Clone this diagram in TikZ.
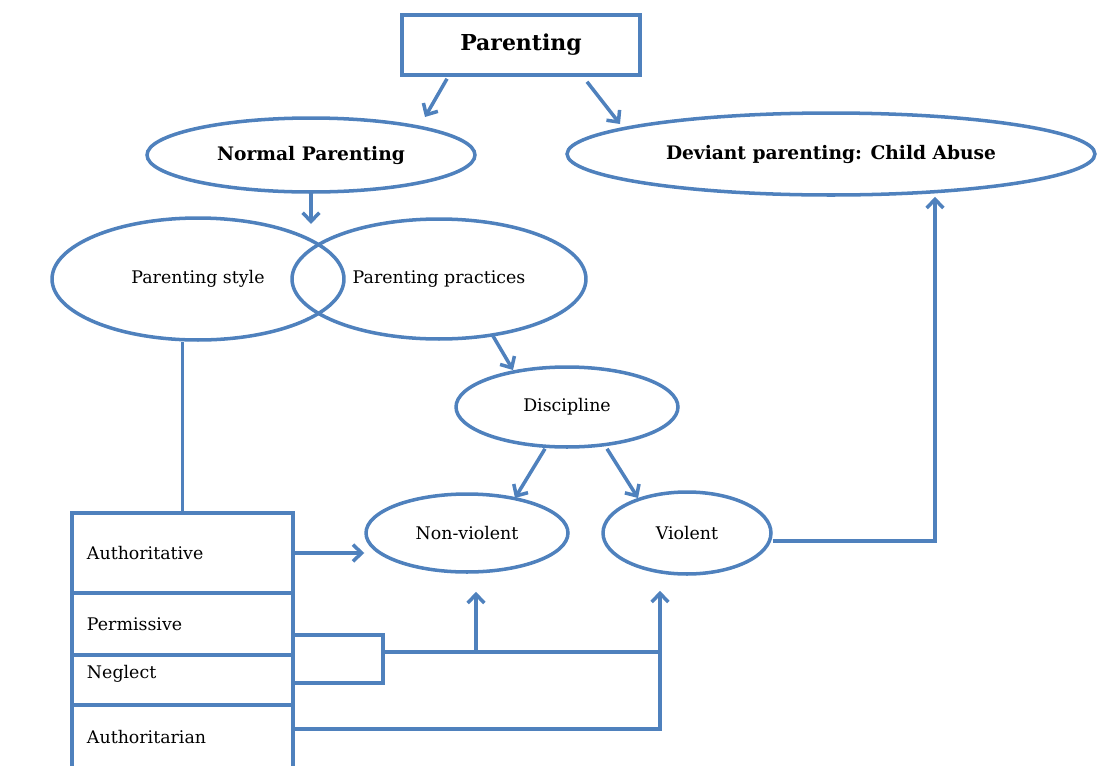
\documentclass[tikz,border=0pt]{standalone}
\usepackage{fontspec}
\setmainfont{DejaVu Serif}
\usetikzlibrary{positioning,calc,arrows.meta,shapes.geometric}
\definecolor{pblue}{HTML}{4F81BD}

\begin{document}
\begin{tikzpicture}[x=0.02cm,y=0.02cm,line width=2pt,
    ov/.style={ellipse,draw=pblue,inner sep=0pt,font=\fontsize{9.9}{12}\selectfont},
    bx/.style={rectangle,draw=pblue,inner sep=0pt},
    row/.style={bx,outer sep=0pt,minimum width=4.42cm,inner xsep=0.3cm,text width=3.82cm,align=left,font=\fontsize{9.9}{12}\selectfont},
    arr/.style={draw=pblue,-{Straight Barb[length=5pt,width=9.5pt]}},
    ln/.style={draw=pblue}]
    \useasboundingbox (0,0) rectangle (1100,-765);
    \clip (0,0) rectangle (1100,-765);
    % top level
    \node[bx,minimum width=4.76cm,minimum height=1.2cm,font=\bfseries\fontsize{12.5}{14}\selectfont] (par) at (521,-45) {Parenting};
    \node[ov,minimum width=6.56cm,minimum height=1.48cm,font=\bfseries\fontsize{10.6}{12}\selectfont] (norm) at (311,-155) {Normal Parenting};
    \node[ov,minimum width=10.56cm,minimum height=1.64cm,font=\bfseries\fontsize{10.6}{12}\selectfont] (dev) at (831,-154) {Deviant parenting: Child Abuse};
    % style / practices
    \node[ov,minimum width=5.84cm,minimum height=2.44cm] (sty) at (198,-279) {Parenting style};
    \node[ov,minimum width=5.88cm,minimum height=2.4cm] (prac) at (439,-279) {Parenting practices};
    \node[ov,minimum width=4.44cm,minimum height=1.6cm] (disc) at (567,-407) {Discipline};
    \node[ov,minimum width=4.04cm,minimum height=1.56cm] (nonv) at (467,-533) {Non-violent};
    \node[ov,minimum width=3.36cm,minimum height=1.64cm] (viol) at (687,-533) {Violent};
    % table of styles
    \node[row,minimum height=1.6cm,anchor=north west] (auth) at (72,-513) {Authoritative};
    \node[row,minimum height=1.24cm,below=0pt of auth] (perm) {Permissive};
    \node[row,minimum height=1.0cm,text depth=9pt,below=0pt of perm] (negl) {Neglect};
    \node[row,minimum height=1.3cm,below=0pt of negl] (autn) {Authoritarian};
    % connectors
    \draw[arr] ([shift={(-74,-2)}]par.south) -- ([shift={(114,38)}]norm.center);
    \draw[arr] ([shift={(66,-5)}]par.south) -- ([shift={(-211,30)}]dev.center);
    \draw[arr] (norm.south) -- ([shift={(113,55)}]sty.center);
    \draw[arr] ([shift={(54,-57)}]prac.center) -- ([shift={(-54,37)}]disc.center);
    \draw[arr] ([xshift=-22*0.02cm]disc.south) -- ([shift={(48,35)}]nonv.center);
    \draw[arr] ([xshift=40*0.02cm]disc.south) -- ([shift={(-49,35)}]viol.center);
    \draw[ln] (auth.north) -- (auth.north |- sty.south);
    \draw[arr] (auth.east) -- (auth.east -| nonv.west);
    \coordinate (j) at (383,-652);
    \coordinate (ntip) at ([shift={(9,-18)}]nonv.south);
    \coordinate (vtip) at ([shift={(-27,-15)}]viol.south);
    \draw[ln] ([yshift=-11*0.02cm]perm.east) -| (j) |- ([yshift=-3*0.02cm]negl.east);
    \draw[ln] (j) -- (j -| vtip);
    \draw[arr] (j -| ntip) -- (ntip);
    \draw[arr] ([yshift=8.5*0.02cm]autn.east) -| (vtip);
    \draw[arr] ([yshift=-8*0.02cm]viol.east) -| ([xshift=104*0.02cm]dev.south);
\end{tikzpicture}
\end{document}
